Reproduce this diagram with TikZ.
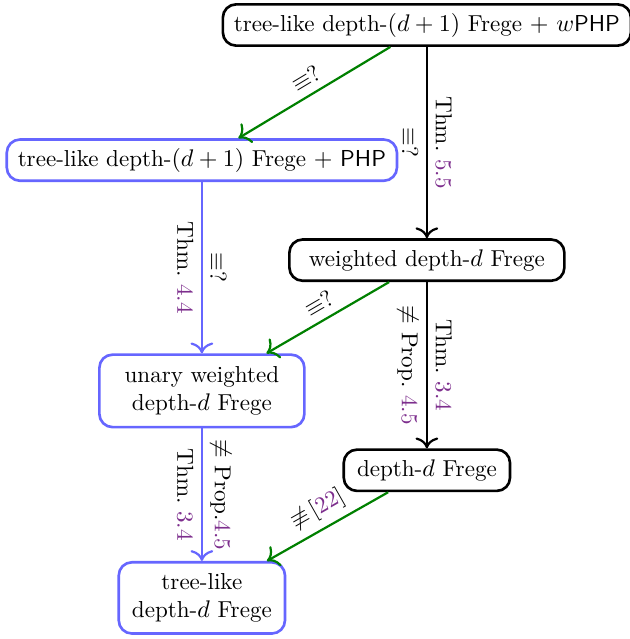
\documentclass[tikz,border=0pt]{standalone}
\usepackage[dvipsnames]{xcolor}
\definecolor{EdgeGreen}{HTML}{008000}
\definecolor{BoxBlue}{HTML}{6666FF}
\definecolor{RefPurple}{HTML}{7D2E8D}
\usepackage{tikz}
\usetikzlibrary{arrows.meta, positioning, calc}
\newcommand{\thmref}[1]{\textcolor{RefPurple}{#1}}

\begin{document}
\begin{tikzpicture}[
  node distance=1cm,
  font=\fontsize{10.5}{12.6}\selectfont,
  sys/.style={rectangle, rounded corners=6pt, draw=black, very thick, align=center, minimum height=0.66cm, inner xsep=5pt},
  weak/.style={sys, draw=BoxBlue},
  arrow/.style={-{To[scale=1.3]}, line width=1pt, black},
  bluearrow/.style={arrow, BoxBlue},
  greenarrow/.style={arrow, EdgeGreen},
  lbl/.style={midway, sloped, text=black}
]
  \useasboundingbox (0,0) rectangle (10.064,-10.224);

  \node[sys] (top) at (6.83,-0.40) {tree-like depth-$(d+1)$ Frege $+$ $w$\textsf{PHP}};
  \node[weak, below=1.46cm of top, xshift=-3.6cm] (php) {tree-like depth-$(d+1)$ Frege $+$ \textsf{PHP}};
  \node[sys, below=3.06cm of top, minimum width=4.4cm] (wfrege) {weighted depth-$d$ Frege};
  \node[weak, below=2.74cm of php, minimum height=1.16cm, minimum width=3.28cm] (unary) {unary weighted\\depth-$d$ Frege};
  \node[sys, below=2.66cm of wfrege, minimum width=2.66cm] (frege) {depth-$d$ Frege};
  \node[weak, below=2.12cm of unary, minimum height=1.14cm, minimum width=2.66cm] (treelike) {tree-like\\depth-$d$ Frege};

  \draw[greenarrow] (top) -- node[lbl, above] {$\equiv$?} (php);
  \draw[arrow] (top) -- node[lbl, above] {Thm.~\thmref{5.5}} node[lbl, below] {$\equiv$?} (wfrege);
  \draw[bluearrow] (php) -- node[lbl, below] {Thm.~\thmref{4.4}} node[lbl, above] {$\equiv$?} (unary);
  \draw[greenarrow] (wfrege) -- node[lbl, above] {$\equiv$?} (unary);
  \draw[arrow] (wfrege) -- node[lbl, below] {$\not\equiv$ Prop.~\thmref{4.5}} node[lbl, above] {Thm.~\thmref{3.4}} (frege);
  \draw[bluearrow] (unary) -- node[lbl, below] {Thm.~\thmref{3.4}} node[lbl, above] {$\not\equiv$ Prop.\thmref{4.5}} (treelike);
  \draw[greenarrow] (frege) -- node[lbl, above] {$\not\equiv$\,[\thmref{22}]} (treelike);
\end{tikzpicture}
\end{document}
